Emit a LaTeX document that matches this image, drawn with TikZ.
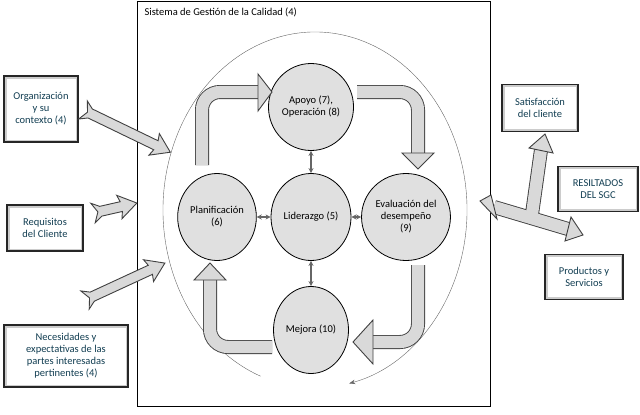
\documentclass[tikz,border=0pt]{standalone}
\usepackage{fontspec}
\setmainfont{Carlito}
\usetikzlibrary{shapes.geometric,arrows.meta}
\definecolor{boxtext}{RGB}{18,62,82}

\begin{document}
\begin{tikzpicture}[x=1pt,y=-1pt,
    proc/.style={ellipse,draw,thick,fill=black!12,minimum width=75pt,
		minimum height=87pt,inner sep=1pt,align=center,font=\fontsize{10.5}{12}\selectfont},
    info/.style={rectangle,draw=black!85,line width=1.4pt,fill=white,
		path picture={\draw[black!20,line width=5pt] (path picture bounding box.south west) rectangle (path picture bounding box.north east);},
		text=boxtext,align=center,font=\fontsize{10.5}{12}\selectfont},
% bands of the big arrows
    bandout/.style={line width=14pt,black!75,rounded corners=18pt},
    bandin/.style={line width=12.2pt,black!15,rounded corners=18pt},
    head/.style={draw=black!75,fill=black!15,line width=0.9pt,line join=miter},
    link/.style={{Stealth[length=5pt,width=5pt]}-{Stealth[length=5pt,width=5pt]},black!60,line width=1.3pt}
    ]
   \useasboundingbox (0,0) rectangle (640,415);
%%% frame of the system
   \draw[thick] (137,1) rectangle (490,406);
   \node[anchor=west,font=\fontsize{10.5}{12}\selectfont] (title) at (141,12) {Sistema de Gestión de la Calidad (4)};
   \draw[black!60,-{Stealth[length=6pt]}] (315,210) ++(111:152 and 178) arc[start angle=111,end angle=437,x radius=152,y radius=178];

%%% cycle
   \node[proc] (apo) at (311,107) {Apoyo (7),\\Operación (8)};
   \node[proc] (lid) at (311,217) {Liderazgo (5)};
   \node[proc] (pla) at (217,217) {Planificación\\(6)};
   \node[proc] (eva) at (406,217) {Evaluación del\\desempeño\\(9)};
   \node[proc] (mej) at (311,330) {Mejora (10)};
   \draw[link] (lid) -- (apo);
   \draw[link] (lid) -- (pla);
   \draw[link] (lid) -- (eva);
   \draw[link] (lid) -- (mej);

   \foreach \p in {bandout,bandin}{
       \draw[\p] (202,165) -- (202,92) -- (259,92);
       \draw[\p] (357,92) -- (418,92) -- (418,154);
       \draw[\p] (418,265) -- (418,342) -- (372,342);
       \draw[\p] (272,347) -- (210,347) -- (210,279);
   }
   \draw[head] (258,74) -- (272,92) -- (258,111) -- cycle;
   \draw[head] (402,153) -- (418,169) -- (434,153) -- cycle;
   \draw[head] (373,320) -- (353,342) -- (373,364) -- cycle;
   \draw[head] (194,280) -- (210,263) -- (226,280) -- cycle;

%%% inputs
   \node[info,minimum width=74pt,minimum height=66pt] (org) at (41,109) {Organización\\y su\\contexto (4)};
   \node[info,minimum width=76pt,minimum height=46pt] (req) at (45,228) {Requisitos\\del Cliente};
   \node[info,minimum width=124pt,minimum height=62pt] (nec) at (66,356) {Necesidades y\\expectativas de las\\partes interesadas\\pertinentes (4)};
   \foreach \x/\y/\a/\l in {83/110/-25.8/97, 93/213/12.8/45, 85/300/24.8/88}{
       \begin{scope}[shift={(\x,\y)},rotate=\a]
           \draw[head] (0,10) -- (8,5) -- (\l-16,5) -- (\l-18,12) -- (\l,0) -- (\l-18,-12) -- (\l-16,-5) -- (8,-5) -- (0,-10) -- (5,0) -- cycle;
       \end{scope}
   }

%%% results
   \node[info,minimum width=76pt,minimum height=47pt] (sat) at (540,108) {Satisfacción\\del cliente};
   \node[info,minimum width=80pt,minimum height=45pt] (res) at (598,189) {RESILTADOS\\DEL SGC};
   \node[info,minimum width=78pt,minimum height=45pt] (pro) at (584,277) {Productos y\\Servicios};
   \coordinate (jn) at (532,214);
   \coordinate (lt) at (494,207);
   \coordinate (rt) at (568,229);
   \coordinate (up) at (541,150);
   \foreach \p in {bandout,bandin}{
       \draw[\p] (lt) -- (rt);
       \draw[\p] (jn) -- (up);
   }
   \draw[head] ([shift={(-3,-12)}]lt) -- (480,201) -- ([shift={(3,12)}]lt) -- cycle;
   \draw[head] ([shift={(3,-12)}]rt) -- (583,235) -- ([shift={(-3,12)}]rt) -- cycle;
   \draw[head] ([shift={(-12,-2)}]up) -- (545,134) -- ([shift={(12,3)}]up) -- cycle;
\end{tikzpicture}
\end{document}
